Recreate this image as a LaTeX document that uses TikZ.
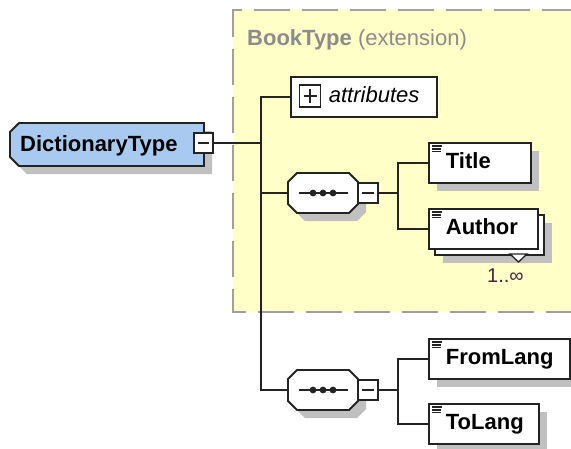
\documentclass[tikz,border=0pt]{standalone}
\usepackage{fontspec}
\setmainfont{Liberation Sans}
\usetikzlibrary{shadows}
\definecolor{bgyellow}{RGB}{255,255,200}
\definecolor{dashgray}{RGB}{160,160,160}
\definecolor{shadowgray}{RGB}{192,192,192}
\definecolor{typeblue}{RGB}{168,202,240}
\definecolor{captiongray}{RGB}{140,140,140}
\definecolor{occur}{RGB}{70,35,65}
\definecolor{linedark}{RGB}{35,35,35}
\newcommand\elemmark[1]{\draw[line width=1.4pt, draw=linedark]
  ([shift={(4,3.9)}]#1.north west) -- ++(10,0)
  ([shift={(4,6.8)}]#1.north west) -- ++(9,0)
  ([shift={(4,9.7)}]#1.north west) -- ++(9,0);}
\begin{document}
\begin{tikzpicture}[x=1pt,y=-1pt,
  txt/.style={font=\fontsize{22}{26}\selectfont},
  boxline/.style={draw=linedark, line width=1.8pt},
  wire/.style={draw=linedark, line width=1.8pt},
  elem/.style={boxline, fill=white, rectangle, inner xsep=0pt, inner ysep=0pt,
    minimum height=40pt, text height=16pt, text depth=5pt, align=left,
    anchor=north west, font=\fontsize{22}{26}\selectfont\bfseries, text=black},
  elemshadow/.style={drop shadow={shadow xshift=8pt, shadow yshift=-8pt, fill=shadowgray, opacity=1}},
  pmbox/.style={draw=linedark, line width=1.6pt, fill=white, inner sep=0pt,
    minimum width=20pt, minimum height=20pt},
  minusbox/.style={pmbox, path picture={\draw[line width=1.4pt, draw=linedark]
    ([xshift=4pt]path picture bounding box.west) -- ([xshift=-4pt]path picture bounding box.east);}},
  plusbox/.style={pmbox, minimum width=21pt, minimum height=22pt, path picture={\draw[line width=1.4pt, draw=linedark]
    ([xshift=4pt]path picture bounding box.west) -- ([xshift=-4pt]path picture bounding box.east)
    ([yshift=-4pt]path picture bounding box.north) -- ([yshift=4pt]path picture bounding box.south);}},
  seqoct/.pic={
    \fill[shadowgray, shift={(8,8)}] (-26,-20) -- (26,-20) -- (35,-11) -- (35,11) -- (26,20)
      -- (-26,20) -- (-35,11) -- (-35,-11) -- cycle;
    \draw[boxline, fill=white] (-26,-20) -- (26,-20) -- (35,-11) -- (35,11) -- (26,20)
      -- (-26,20) -- (-35,11) -- (-35,-11) -- cycle;
    \draw[line width=1.8pt, draw=linedark] (-24,0) -- (25,0);
    \fill[linedark] (-10,0) circle[radius=3.4pt] (0,0) circle[radius=3.4pt] (10,0) circle[radius=3.4pt];
    \coordinate (-west) at (-35,0);
    \node[minusbox] (-m) at (45,0) {};
  }
]
\useasboundingbox (0,0) rectangle (571,448);

% extension area
\fill[bgyellow] (233,10) rectangle (580,312);
\draw[draw=dashgray, line width=2pt, dash pattern=on 36pt off 12pt, dash phase=7pt]
  (571,10) -- (233,10) -- (233,312) -- (580,312);
\node[txt, anchor=base west, inner sep=0pt, text=captiongray] (cap) at (247,45)
  {\textbf{BookType} (extension)};

% DictionaryType
\fill[shadowgray] (27,131) -- (212,131) -- (212,174) -- (27,174) -- (18,165) -- (18,140) -- cycle;
\draw[boxline, fill=typeblue] (19,123) -- (204,123) -- (204,166) -- (19,166) -- (10,157) -- (10,132) -- cycle;
\node[txt, font=\fontsize{22}{26}\selectfont\bfseries, anchor=base west, inner sep=0pt] (dt) at (20,151) {DictionaryType};
\node[minusbox, minimum width=19pt] (dtm) at (203.5,143) {};

% attributes
\node[elem, text width=146pt, font=\fontsize{22}{26}\selectfont\itshape] (attr) at (290,76) {\hspace*{38pt}attributes};
\node[plusbox] (attrp) at (310,96) {};

% sequences
\pic (s1) at (323,193) {seqoct};
\pic (s2) at (323,390) {seqoct};

% elements of first sequence
\node[elem, text width=102pt, elemshadow] (title) at (428,142) {\hspace*{17pt}Title};
\elemmark{title}
\node[elem, text width=109pt, elemshadow] (authorback) at (434,214) {};
\node[elem, text width=109pt] (author) at (428,208) {\hspace*{17pt}Author};
\elemmark{author}
\draw[draw=linedark, line width=1.3pt, fill=white] (510,254) -- (527,254) -- (518.5,262) -- cycle;
\node[anchor=base west, inner sep=0pt, font=\fontsize{20}{24}\selectfont, text=occur] (occ) at (487,282) {1..∞};

% elements of second sequence
\node[elem, text width=141pt, elemshadow] (fromlang) at (428,338) {\hspace*{17pt}FromLang};
\elemmark{fromlang}
\node[elem, text width=110pt, elemshadow] (tolang) at (428,403) {\hspace*{17pt}ToLang};
\elemmark{tolang}

% connectors
\coordinate (bus) at (261,143);
\coordinate (b1) at (398,193);
\coordinate (b2) at (398,390);
\draw[wire] (dtm.east) -- (bus);
\draw[wire] (attr.west) -| (bus);
\draw[wire] (s1-west) -| (bus);
\draw[wire] (s2-west) -| (bus);
\draw[wire] (s1-m.east) -- (b1);
\draw[wire] (title.west) -| (b1);
\draw[wire] (author.west) -| (b1);
\draw[wire] (s2-m.east) -- (b2);
\draw[wire] (fromlang.west) -| (b2);
\draw[wire] (tolang.west) -| (b2);
\end{tikzpicture}
\end{document}
